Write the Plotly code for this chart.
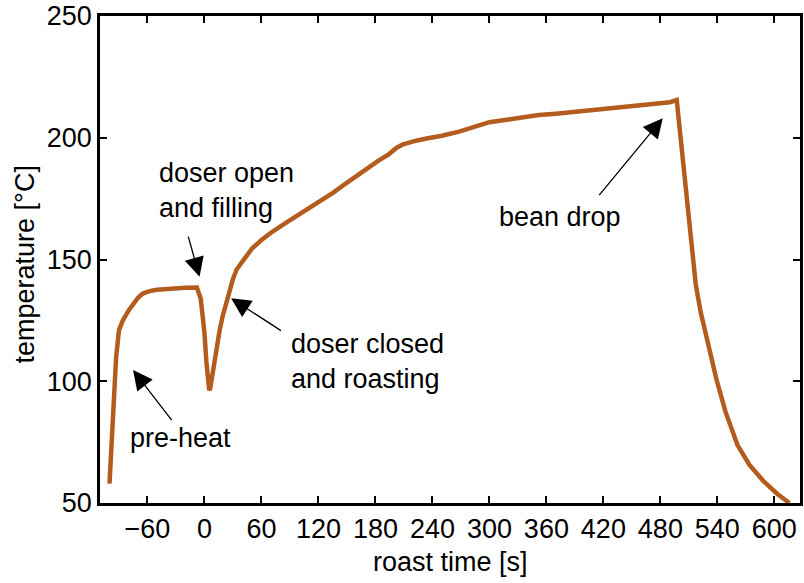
import plotly.graph_objects as go

# roast time [s] and temperature [°C]
time_s = [-100, -98, -96, -93, -90, -86, -80, -75, -70, -65, -58, -50, -40, -30, -20, -8,
          -4, -2, 0, 2, 4, 5, 6, 8, 12, 16, 19, 23, 26, 30, 34, 40, 44, 50, 60, 70, 84,
          96, 110, 124, 136, 149, 160, 173, 184, 194, 202, 209, 216, 224, 235, 250, 268,
          285, 300, 320, 340, 352, 370, 388, 404, 420, 440, 456, 475, 490, 497.2, 501.4,
          505.6, 509.8, 513.5, 517.2, 522.4, 529.8, 539.2, 548.6, 561.2, 573.8, 588.5,
          603.2, 615.8]
temp_c = [58, 72, 86, 110, 121, 125, 129, 132, 134.3, 136, 137, 137.6, 138, 138.4, 138.4, 138.5,
          134, 127, 119.7, 108, 97.5, 96.3, 97, 101.9, 112.8, 121, 126.5, 132.5, 137.5, 142, 146,
          149.2, 150.8, 154.5, 158, 161, 164.6, 167.6, 171, 174.4, 177.6, 181.3, 184.3, 188.1,
          190.8, 193.2, 195.8, 197.3, 198.2, 198.9, 199.8, 200.8, 202.5, 204.5, 206.4, 207.5,
          208.7, 209.3, 209.9, 210.6, 211.4, 212.0, 212.7, 213.4, 214.1, 214.6, 215.5, 199.1,
          182.6, 165.4, 150.6, 139.9, 128.4, 115.3, 100.5, 87.4, 73.8, 65.6, 59.0,
          53.7, 50.0]

x_ticks = [-60, 0, 60, 120, 180, 240, 300, 360, 420, 480, 540, 600]
y_ticks = [50, 100, 150, 200, 250]
x_title = "roast time [s]"
y_title = "temperature [°C]"

# annotations: (label, text_x, text_y, head_x, head_y, tail_x, tail_y)
notes = [
    ("doser open<br>and filling", -50.4, 178.5, -5.2, 142.9, -17.5, 160.0),
    ("doser closed<br>and roasting", 89.2, 108.3, 28.0, 134.1, 82.1, 120.4),
    ("pre-heat", -80.8, 76.7, -75.2, 104.6, -33.3, 83.4),
    ("bean drop", 308.4, 167.5, 482.5, 208.0, 414.3, 175.8),
]

FONT = "Arial, Liberation Sans, sans-serif"
FS = 27

fig = go.Figure()
fig.add_trace(go.Scatter(x=time_s, y=temp_c, mode="lines",
                         line=dict(color="#B35C1E", width=4.5), showlegend=False))

annotations = []
for label, tx, ty, hx, hy, ax, ay in notes:
    annotations.append(dict(x=tx, y=ty, xref="x", yref="y", text=label, showarrow=False,
                            xanchor="left", yanchor="middle", align="left",
                            font=dict(family=FONT, size=FS, color="black")))
    annotations.append(dict(x=hx, y=hy, xref="x", yref="y", ax=ax, ay=ay, axref="x", ayref="y",
                            text="", showarrow=True, arrowhead=2, arrowsize=3,
                            arrowwidth=1.3, arrowcolor="black", standoff=0))

# axis titles (placed as in the reference)
annotations.append(dict(x=0.5, y=-0.121, xref="paper", yref="paper", text=x_title,
                        showarrow=False, xanchor="center", yanchor="middle",
                        font=dict(family=FONT, size=FS, color="black")))
annotations.append(dict(x=-0.107, y=0.49, xref="paper", yref="paper", text=y_title,
                        showarrow=False, xanchor="center", yanchor="middle", textangle=-90,
                        font=dict(family=FONT, size=FS, color="black")))

fig.update_layout(
    width=804, height=583,
    margin=dict(l=100, r=1, t=16, b=80),
    paper_bgcolor="white", plot_bgcolor="white",
    font=dict(family=FONT, size=FS, color="black"),
    annotations=annotations,
    xaxis=dict(range=[-110, 627], tickvals=x_ticks, ticks="inside", ticklen=7, tickwidth=2,
               tickcolor="black", showline=True, linecolor="black", linewidth=2.5,
               mirror="ticks", showgrid=False, zeroline=False,
               tickfont=dict(size=FS)),
    yaxis=dict(range=[50, 250], tickvals=y_ticks, ticks="inside", ticklen=7, tickwidth=2,
               tickcolor="black", showline=True, linecolor="black", linewidth=2.5,
               mirror="ticks", showgrid=False, zeroline=False,
               tickfont=dict(size=FS)),
)

fig.write_html("out.html")
